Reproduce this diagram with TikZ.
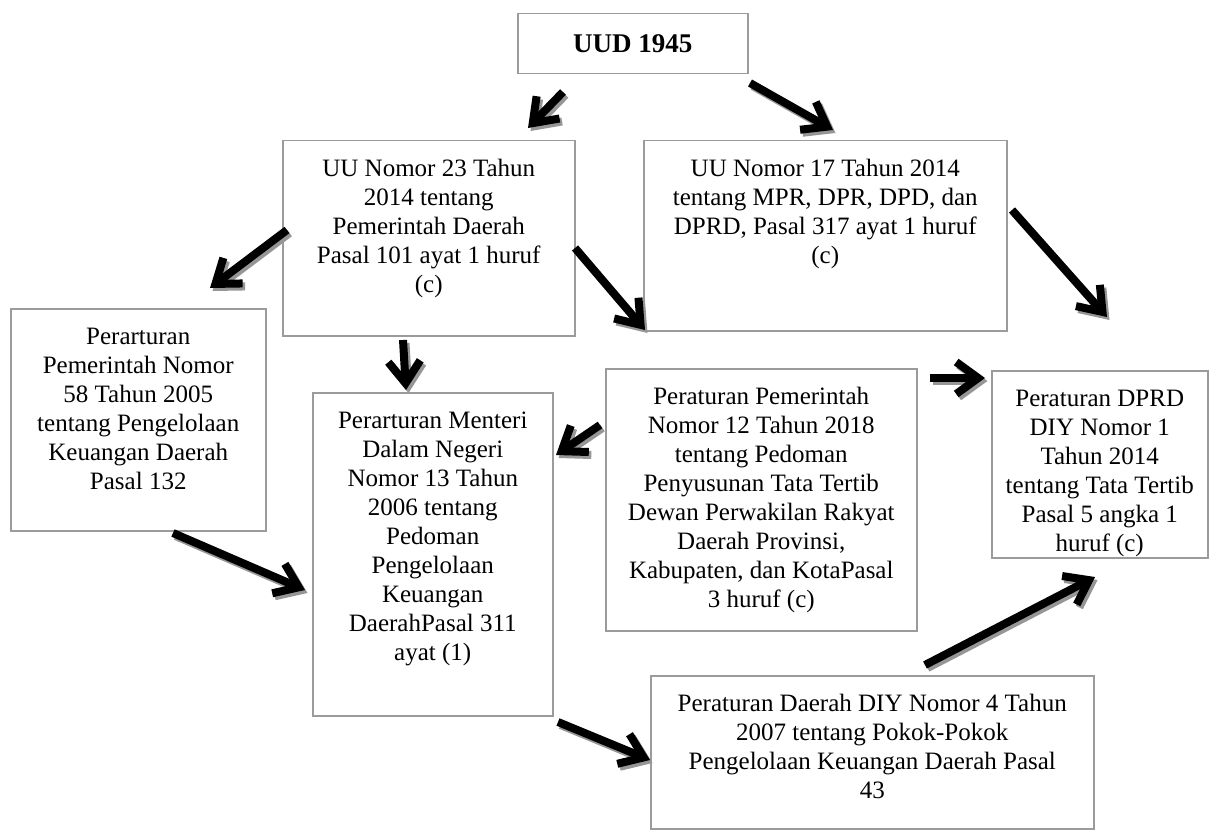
\documentclass[tikz,border=0pt]{standalone}
\usepackage{fontspec}
\setmainfont{Liberation Serif}
\usetikzlibrary{arrows.meta}
\definecolor{boxgray}{RGB}{155,155,155}
\definecolor{shadowgray}{RGB}{150,150,150}
\newcommand{\boxtext}[3]{\parbox[c][#2][t]{#1}{\centering\fontsize{25pt}{29pt}\selectfont\rule{0pt}{36pt}#3\par}}
\begin{document}
\begin{tikzpicture}[x=1pt,y=-1pt,
  box/.style={draw=boxgray, line width=1.5pt, inner sep=0pt, anchor=north west, fill=white},
  bigarrow/.style={line width=8pt, draw=black, -{Straight Barb[length=22pt,width=32pt]}},
  arrowshade/.style={line width=8pt, draw=shadowgray, -{Straight Barb[length=22pt,width=32pt]}, transform canvas={shift={(2.5pt,-3pt)}}}]
\useasboundingbox[fill=white] (0,0) rectangle (1218,832);

\node[box] (uud) at (517,13) {\parbox[c][60pt][c]{230pt}{\centering\fontsize{27pt}{32pt}\selectfont\bfseries UUD 1945}};
\node[box] (uu23) at (282,140) {\boxtext{292pt}{195pt}{UU Nomor 23 Tahun\\2014 tentang\\Pemerintah Daerah\\Pasal 101 ayat 1 huruf\\(c)}};
\node[box] (uu17) at (643,140) {\boxtext{363pt}{190pt}{UU Nomor 17 Tahun 2014\\tentang MPR, DPR, DPD, dan\\DPRD, Pasal 317 ayat 1 huruf\\(c)}};
\node[box] (pp58) at (10,308) {\boxtext{255pt}{222pt}{Perarturan\\Pemerintah Nomor\\58 Tahun 2005\\tentang Pengelolaan\\Keuangan Daerah\\Pasal 132}};
\node[box] (perm) at (312,392) {\boxtext{240pt}{323pt}{Perarturan Menteri\\Dalam Negeri\\Nomor 13 Tahun\\2006 tentang\\Pedoman\\Pengelolaan\\Keuangan\\DaerahPasal 311\\ayat (1)}};
\node[box] (pp12) at (605,368) {\boxtext{311pt}{262pt}{Peraturan Pemerintah\\Nomor 12 Tahun 2018\\tentang Pedoman\\Penyusunan Tata Tertib\\Dewan Perwakilan Rakyat\\Daerah Provinsi,\\Kabupaten, dan KotaPasal\\3 huruf (c)}};
\node[box] (dprd) at (991,370) {\boxtext{216pt}{187pt}{Peraturan DPRD\\DIY Nomor 1\\Tahun 2014\\tentang Tata Tertib\\Pasal 5 angka 1\\huruf (c)}};
\node[box] (perda) at (650,675) {\boxtext{443pt}{153pt}{Peraturan Daerah DIY Nomor 4 Tahun\\2007 tentang Pokok-Pokok\\Pengelolaan Keuangan Daerah Pasal\\43}};

\coordinate (as) at (563,92);   \coordinate (ae) at (528,128);
\coordinate (bs) at (750,83);   \coordinate (be) at (833,130);
\coordinate (cs) at (287,230);  \coordinate (ce) at (210,288);
\coordinate (ds) at (575,248);  \coordinate (de) at (645,330);
\coordinate (es) at (1012,210); \coordinate (ee) at (1107,317);
\coordinate (fs) at (403,340);  \coordinate (fe) at (406,390);
\coordinate (gs) at (173,533);  \coordinate (ge) at (305,590);
\coordinate (hs) at (600,425);  \coordinate (he) at (556,455);
\coordinate (is) at (930,378);  \coordinate (ie) at (985,378);
\coordinate (js) at (558,722);  \coordinate (je) at (650,760);
\coordinate (ks) at (925,665);  \coordinate (ke) at (1095,577);

\foreach \p in {a,b,c,d,e,f,g,h,i,j,k}{
  \draw[arrowshade] (\p s) -- (\p e);
}
\foreach \p in {a,b,c,d,e,f,g,h,i,j,k}{
  \draw[bigarrow] (\p s) -- (\p e);
}
\end{tikzpicture}
\end{document}
